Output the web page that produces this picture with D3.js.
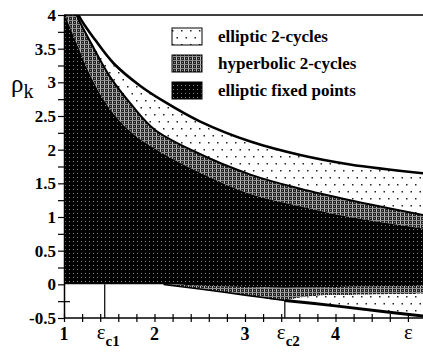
<!DOCTYPE html>
<html>
<head>
<meta charset="utf-8">
<script src="https://cdn.jsdelivr.net/npm/d3@7"></script>
<style>
  body { margin: 0; background: #fff; }
  svg { display: block; }
</style>
</head>
<body>
<svg id="chart" width="423" height="353"></svg>
<script>
// Stability regions in the (ε, ρ_k) plane.
// Upper edge of the elliptic 2-cycle band
const epsA = [1.12, 1.16, 1.35, 1.55, 1.84, 2.10, 2.50, 3.06, 3.61, 4.16, 4.97];
const rhoA = [4.20, 4.00, 3.62, 3.28, 2.95, 2.72, 2.42, 2.12, 1.92, 1.78, 1.65];
// Edge between elliptic 2-cycles and hyperbolic 2-cycles (upper branch)
const epsB = [1.10, 1.14, 1.30, 1.50, 1.75, 2.00, 2.43, 3.06, 3.61, 4.16, 4.97];
const rhoB = [4.20, 4.00, 3.58, 3.10, 2.66, 2.30, 1.98, 1.63, 1.42, 1.25, 1.03];
// Upper edge of the elliptic fixed-point region
const epsC = [1.00, 1.02, 1.15, 1.30, 1.50, 1.75, 2.06, 2.50, 3.06, 3.61, 4.16, 4.97];
const rhoC = [4.25, 4.00, 3.55, 3.08, 2.62, 2.25, 1.97, 1.66, 1.34, 1.16, 1.00, 0.83];
// Lower edge of the elliptic fixed-point region
const epsCLow = [1.00, 2.10, 2.50, 3.00, 3.44, 4.00, 4.50, 4.97];
const rhoCLow = [0.00, 0.00, -0.02, -0.04, -0.05, -0.04, -0.03, -0.02];
// Lower branch: edge between hyperbolic and elliptic 2-cycles
const epsBLow = [3.44, 3.60, 3.80, 4.00, 4.50, 4.97];
const rhoBLow = [-0.24, -0.20, -0.17, -0.16, -0.15, -0.14];
// Lower boundary of the 2-cycle regions
const epsD = [2.10, 2.50, 3.00, 3.44, 4.00, 4.50, 4.97];
const rhoD = [0.00, -0.07, -0.16, -0.24, -0.32, -0.40, -0.47];

// Critical values of ε
const epsC1 = 1.45;
const epsC2 = 3.44;
const epsMark = 4.8;

// Axis ticks and labels
const xTickVals = d3.range(0, 20).map(i => 1 + i * 0.2);
const xNumLabels = [1, 2, 3, 4];
const yTickVals = d3.range(0, 19).map(i => -0.5 + i * 0.25);
const yNumLabels = ["-0.5", "0", "0.5", "1", "1.5", "2", "2.5", "3", "3.5", "4"];

const legendNames = ["elliptic 2-cycles", "hyperbolic 2-cycles", "elliptic fixed points"];
const legendFills = ["url(#dots)", "url(#plaid)", "url(#darkgrid)"];

const SERIF = "'Liberation Serif', 'Times New Roman', serif";

const svg = d3.select("#chart");
const x = d3.scaleLinear().domain([1, 5]).range([64, 426]);
const y = d3.scaleLinear().domain([-0.5, 4]).range([318, 15]);

const defs = svg.append("defs");

// sparse dots on white
const pDots = defs.append("pattern").attr("id", "dots").attr("patternUnits", "userSpaceOnUse")
  .attr("width", 9).attr("height", 14);
pDots.append("rect").attr("width", 9).attr("height", 14).attr("fill", "#fff");
pDots.append("rect").attr("x", 1).attr("y", 2).attr("width", 1.5).attr("height", 1.5).attr("fill", "#222");
pDots.append("rect").attr("x", 5.5).attr("y", 9).attr("width", 1.5).attr("height", 1.5).attr("fill", "#222");

// grey plaid texture
const pPlaid = defs.append("pattern").attr("id", "plaid").attr("patternUnits", "userSpaceOnUse")
  .attr("width", 4).attr("height", 4);
pPlaid.append("rect").attr("width", 4).attr("height", 4).attr("fill", "#222");
pPlaid.append("rect").attr("x", 0).attr("y", 0).attr("width", 1).attr("height", 4).attr("fill", "#bdbdbd");
pPlaid.append("rect").attr("x", 0).attr("y", 0).attr("width", 4).attr("height", 1).attr("fill", "#8e8e8e");
pPlaid.append("rect").attr("x", 2).attr("y", 2).attr("width", 1).attr("height", 1).attr("fill", "#888");

// black with a faint grid of dots
const pDark = defs.append("pattern").attr("id", "darkgrid").attr("patternUnits", "userSpaceOnUse")
  .attr("width", 4).attr("height", 4);
pDark.append("rect").attr("width", 4).attr("height", 4).attr("fill", "#000");
pDark.append("rect").attr("x", 1).attr("y", 1).attr("width", 1).attr("height", 1).attr("fill", "#8c8c8c");

defs.append("clipPath").attr("id", "plotclip").append("rect")
  .attr("x", x(1)).attr("y", y(4)).attr("width", 423 - x(1)).attr("height", y(-0.5) - y(4));

const pts = (es, rs) => es.map((e, i) => [x(e), y(rs[i])]);
const line = d3.line().curve(d3.curveCatmullRom.alpha(0.5));
function band(top, bottom) {
  const a = line(top);
  const b = line(bottom.slice().reverse());
  return a + "L" + b.slice(1) + "Z";
}

const A = pts(epsA, rhoA);
const B = pts(epsB, rhoB);
const C = pts(epsC, rhoC);
const CLow = pts(epsCLow, rhoCLow);
const BLow = pts(epsBLow, rhoBLow);
const D = pts(epsD, rhoD);

const plot = svg.append("g").attr("clip-path", "url(#plotclip)");

// elliptic 2-cycles (upper)
plot.append("path").attr("d", band(A, B)).attr("fill", "url(#dots)");
// hyperbolic 2-cycles (upper)
plot.append("path").attr("d", band(B, C)).attr("fill", "url(#plaid)");
// hyperbolic 2-cycles (below zero)
const lowGreyTop = CLow.filter((p, i) => epsCLow[i] >= 2.1);
const lowGreyBottom = D.filter((p, i) => epsD[i] <= epsC2).concat(BLow.slice(1));
plot.append("path").attr("d", band(lowGreyTop, lowGreyBottom)).attr("fill", "url(#plaid)");
// elliptic 2-cycles (below zero)
const Dright = D.filter((p, i) => epsD[i] >= epsC2);
plot.append("path").attr("d", band(BLow, Dright)).attr("fill", "url(#dots)");
// elliptic fixed points
plot.append("path").attr("d", band(C, CLow)).attr("fill", "url(#darkgrid)");

// boundary curves
plot.append("path").attr("d", line(A)).attr("fill", "none").attr("stroke", "#000").attr("stroke-width", 2.6);
plot.append("path").attr("d", line(B)).attr("fill", "none").attr("stroke", "#000").attr("stroke-width", 2);
plot.append("path").attr("d", line(D.filter((p, i) => epsD[i] <= epsC2)))
  .attr("fill", "none").attr("stroke", "#000").attr("stroke-width", 1.6);
plot.append("path").attr("d", line(Dright)).attr("fill", "none").attr("stroke", "#000").attr("stroke-width", 3);

// critical-value markers
const dAtC2 = rhoD[epsD.indexOf(epsC2)];
svg.append("line").attr("x1", x(epsC1)).attr("x2", x(epsC1)).attr("y1", y(0)).attr("y2", y(-0.5))
  .attr("stroke", "#000").attr("stroke-width", 1.2);
svg.append("line").attr("x1", x(epsC2)).attr("x2", x(epsC2)).attr("y1", y(dAtC2)).attr("y2", y(-0.5))
  .attr("stroke", "#000").attr("stroke-width", 1.2);

// frame: top line at ρ = 4
svg.append("line").attr("x1", x(1)).attr("x2", 423).attr("y1", y(4)).attr("y2", y(4))
  .attr("stroke", "#000").attr("stroke-width", 1.5);

// x axis
const xAxis = d3.axisBottom(x).tickValues(xTickVals).tickFormat("").tickSizeOuter(0).tickSizeInner(4);
const gx = svg.append("g").attr("transform", `translate(0,${y(-0.5)})`).call(xAxis);
gx.select(".domain").attr("d", `M${x(1)},0H423`).attr("stroke-width", 1.5);
gx.selectAll(".tick line").attr("y1", -4).attr("y2", 4).attr("stroke-width", 1.2);

// y axis
const yAxis = d3.axisLeft(y).tickValues(yTickVals).tickFormat("").tickSizeOuter(0).tickSizeInner(6);
const gy = svg.append("g").attr("transform", `translate(${x(1)},0)`).call(yAxis);
gy.select(".domain").attr("stroke-width", 1.5);
gy.selectAll(".tick line").attr("stroke-width", 1.2)
  .filter(d => d < 0 && d > -0.5).attr("x2", 6).attr("x1", -6);

// y tick labels
svg.append("g").selectAll("text").data(yNumLabels).join("text")
  .attr("font-family", SERIF).attr("font-weight", "bold")
  .attr("x", 56).attr("y", d => y(+d)).attr("dy", "0.35em")
  .attr("text-anchor", "end").attr("font-size", 17).text(d => d);

// x tick labels
svg.append("g").selectAll("text").data(xNumLabels).join("text")
  .attr("font-family", SERIF).attr("font-weight", "bold")
  .attr("x", d => x(d)).attr("y", 340).attr("text-anchor", "middle")
  .attr("font-size", 18).text(d => d);

function epsLabel(val, sub) {
  const t = svg.append("text").attr("font-family", SERIF)
    .attr("x", x(val) - (sub ? 8 : 4)).attr("y", 339).attr("font-size", 21);
  t.append("tspan").text("ε");
  if (sub) t.append("tspan").attr("dy", 7).attr("font-size", 15).attr("font-weight", "bold").text(sub);
}
epsLabel(epsC1, "c1");
epsLabel(epsC2, "c2");
epsLabel(epsMark, null);

// y axis title ρ_k
const yt = svg.append("text").attr("font-family", SERIF).attr("x", 11).attr("y", 92).attr("font-size", 25);
yt.append("tspan").text("ρ");
yt.append("tspan").attr("dy", 6).attr("font-size", 20).text("k");

// legend
const lg = svg.append("g");
legendNames.forEach((name, i) => {
  const ly = 28 + i * 27;
  lg.append("rect").attr("x", 172).attr("y", ly).attr("width", 30).attr("height", 17)
    .attr("fill", legendFills[i]).attr("stroke", "#000").attr("stroke-width", 1);
  lg.append("text").attr("font-family", SERIF).attr("font-weight", "bold")
    .attr("x", 218).attr("y", ly + 14).attr("font-size", 17).text(name);
});
</script>
</body>
</html>
